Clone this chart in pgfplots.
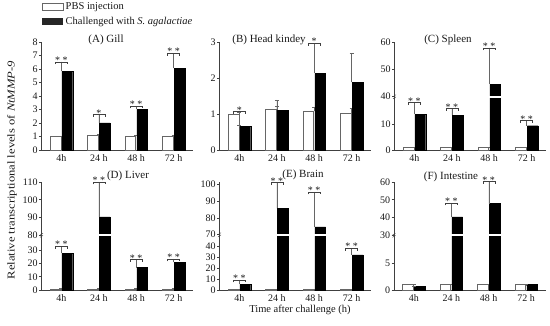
\documentclass[border=0pt]{standalone}
\usepackage{pgfplots}
\usepackage{pgfplotstable}
\pgfplotsset{compat=1.18}
\usepackage{fontspec}
\setmainfont{Liberation Serif}

% raw values: category, PBS mean, PBS error, challenged mean, challenged error
\pgfplotstableread{
x pbs pbse ch che
0 1.00 0.04 5.85 0.69
1 1.10 0.08 2.00 0.65
2 1.05 0.07 3.00 0.27
3 1.05 0.08 6.05 1.13
}\gill
\pgfplotstableread{
x pbs pbse ch che
0 1.00 0.04 0.65 0.03
1 1.13 0.09 1.10 0.29
2 1.07 0.13 2.13 0.84
3 1.03 0.12 1.88 0.80
}\kidney
\pgfplotstableread{
x pbs pbse ch che
0 1.00 0.15 14.1 4.6
1 1.00 0.15 13.8 2.7
2 1.00 0.15 44.5 13.5
3 1.00 0.15 9.6 2.0
}\spleen
\pgfplotstableread{
x pbs pbse ch che
0 0.90 0.20 27.5 5.5
1 0.90 0.20 90.3 19.7
2 0.90 0.20 16.8 6.2
3 0.90 0.20 20.7 2.8
}\liver
\pgfplotstableread{
x pbs pbse ch che
0 0.80 0.10 5.5 3.8
1 0.80 0.10 85.6 15.2
2 0.80 0.10 74.7 20.7
3 0.80 0.10 32.4 6.2
}\brain
\pgfplotstableread{
x pbs pbse ch che
0 1.00 0.08 0.75 0.01
1 1.00 0.08 40.3 7.9
2 1.00 0.08 47.8 12.6
3 1.00 0.08 1.00 0.01
}\intestine

\pgfplotsset{
  panel/.style={
    scale only axis, width=152pt, height=108pt,
    axis x line*=bottom, axis y line*=left,
    xmin=-0.53, xmax=3.53, ymin=0,
    xtick={0,1,2,3}, xticklabels={4h,24 h,48 h,72 h},
    x tick style={draw=none},
    y tick style={black!75, line width=0.5pt},
    tick align=outside, major tick length=2.5pt,
    axis line style={black!75, line width=0.5pt},
    ticklabel style={font=\fontsize{10}{12}\selectfont, text=black!90},
    yticklabel style={inner sep=1.2pt},
    xticklabel style={inner sep=1.5pt},
    /pgf/number format/assume math mode=true,
    clip=false,
  },
  pbsbar/.style={ybar, bar width=10.8pt, bar shift=-6pt, fill=white, draw=black!60, line width=0.4pt,
    error bars/.cd, y dir=plus, y explicit,
    error bar style={black!60, line width=0.4pt},
    error mark options={rotate=90, mark size=2pt, black!60, line width=0.4pt}},
  chbar/.style={ybar, bar width=10.8pt, bar shift=6pt, fill=black, draw=black, line width=0.4pt,
    error bars/.cd, y dir=plus, y explicit,
    error bar style={black!60, line width=0.4pt},
    error mark options={rotate=90, mark size=2pt, black!60, line width=0.4pt}},
}

\newcommand\sig[3]{%
  \draw[black!75, line width=0.4pt]
    ([xshift=-6pt,yshift=-2.5pt]axis cs:#1,{#2}) -- ([xshift=-6pt]axis cs:#1,{#2})
    -- ([xshift=6pt]axis cs:#1,{#2}) -- ([xshift=6pt,yshift=-2.5pt]axis cs:#1,{#2});
  \node[anchor=base, inner sep=0pt, font=\fontsize{10}{12}\selectfont, text=black!90]
    at ([yshift=-1.8pt]axis cs:#1,{#2}) {#3};}
\newcommand\brk[1]{%
  \draw[white, line width=1.8pt] (axis cs:-0.3,#1) -- (axis cs:3.5,#1);
  \draw[black!75, line width=0.4pt]
    ([xshift=-1.5pt,yshift=-2.2pt]axis cs:-0.53,#1) -- ++(3pt,2pt)
    ([xshift=-1.5pt,yshift=0pt]axis cs:-0.53,#1) -- ++(3pt,2pt);}

\begin{document}
\begin{tikzpicture}[
  declare function={
    TC(\v)=(\v<30)*(2.53*\v)+(\v>=30)*(53.3+2.72*(\v-40));
    TD(\v)=(\v<50)*(1.333*\v)+(\v>=50)*(55+1.777*(\v-80));
    TE(\v)=(\v<55)*(1.083*\v)+(\v>=55)*(55.3+1.69*(\v-70));
    TF(\v)=(\v<20)*(5.33*\v)+(\v>=20)*(55+1.777*(\v-30));
  }]
\path[use as bounding box] (0pt,0pt) rectangle (550pt,326pt);

% (A) Gill
\begin{axis}[panel, at={(41.5pt,176pt)}, anchor=south west, ymax=8, ytick={0,1,...,8}]
\addplot[pbsbar] table[x=x, y=pbs, y error plus=pbse] {\gill};
\addplot[chbar] table[x=x, y=ch, y error plus=che] {\gill};
\sig{0}{6.54}{* *}
\sig{1}{2.65}{*}
\sig{2}{3.27}{* *}
\sig{3}{7.18}{* *}
\end{axis}

% (B) Head kidney
\begin{axis}[panel, at={(219.5pt,176pt)}, anchor=south west, ymax=3, ytick={0,1,2,3}]
\addplot[pbsbar] table[x=x, y=pbs, y error plus=pbse] {\kidney};
\addplot[chbar] table[x=x, y=ch, y error plus=che] {\kidney};
\sig{0}{1.07}{*}
\sig{2}{2.97}{*}
\end{axis}

% (C) Spleen
\begin{axis}[panel, at={(394.5pt,176pt)}, anchor=south west, ymax=108,
  ytick={0,25.3,53.3,80.5,107.7}, yticklabels={0,10,40,50,60}]
\addplot[pbsbar] table[x=x, y expr={TC(\thisrow{pbs})},
  y error plus expr={TC(\thisrow{pbs}+\thisrow{pbse})-TC(\thisrow{pbs})}] {\spleen};
\addplot[chbar] table[x=x, y expr={TC(\thisrow{ch})},
  y error plus expr={TC(\thisrow{ch}+\thisrow{che})-TC(\thisrow{ch})}] {\spleen};
\brk{53.3}
\sig{0}{TC(18.7)}{* *}
\sig{1}{TC(16.5)}{* *}
\sig{2}{TC(58)}{* *}
\sig{3}{TC(11.6)}{* *}
\end{axis}

% (D) Liver
\begin{axis}[panel, at={(41.5pt,36pt)}, anchor=south west, ymax=108.3,
  ytick={0,13.3,26.7,40,55,72.8,90.5,108.3}, yticklabels={0,10,20,30,80,90,100,110}]
\addplot[pbsbar] table[x=x, y expr={TD(\thisrow{pbs})},
  y error plus expr={TD(\thisrow{pbs}+\thisrow{pbse})-TD(\thisrow{pbs})}] {\liver};
\addplot[chbar] table[x=x, y expr={TD(\thisrow{ch})},
  y error plus expr={TD(\thisrow{ch}+\thisrow{che})-TD(\thisrow{ch})}] {\liver};
\brk{55}
\sig{0}{TD(33)}{* *}
\sig{1}{TD(110)}{* *}
\sig{2}{TD(23)}{* *}
\sig{3}{TD(23.5)}{* *}
\end{axis}

% (E) Brain
\begin{axis}[panel, at={(219.5pt,36pt)}, anchor=south west, ymax=108,
  ytick={0,10.8,21.7,32.5,43.3,55.3,72.2,89.1,106},
  yticklabels={0,10,20,30,40,70,80,90,100}]
\addplot[pbsbar] table[x=x, y expr={TE(\thisrow{pbs})},
  y error plus expr={TE(\thisrow{pbs}+\thisrow{pbse})-TE(\thisrow{pbs})}] {\brain};
\addplot[chbar] table[x=x, y expr={TE(\thisrow{ch})},
  y error plus expr={TE(\thisrow{ch}+\thisrow{che})-TE(\thisrow{ch})}] {\brain};
\brk{55.3}
\sig{0}{TE(9.3)}{* *}
\sig{1}{TE(100.8)}{* *}
\sig{2}{TE(95.4)}{* *}
\sig{3}{TE(38.6)}{* *}
\end{axis}

% (F) Intestine
\begin{axis}[panel, at={(394pt,36pt)}, anchor=south west, ymax=108.3,
  ytick={0,26.7,55,72.8,90.5,108.3}, yticklabels={0,5,30,40,50,60}]
\addplot[pbsbar] table[x=x, y expr={TF(\thisrow{pbs})},
  y error plus expr={TF(\thisrow{pbs}+\thisrow{pbse})-TF(\thisrow{pbs})}] {\intestine};
\addplot[chbar] table[x=x, y expr={TF(\thisrow{ch})},
  y error plus expr={TF(\thisrow{ch}+\thisrow{che})-TF(\thisrow{ch})}] {\intestine};
\brk{55}
\sig{1}{TF(48.2)}{* *}
\sig{2}{TF(60.4)}{* *}
\end{axis}

% titles
\begin{scope}[every node/.style={font=\fontsize{11}{13}\selectfont, text=black!90, inner sep=0pt}]
\node at (106pt,286pt) {(A) Gill};
\node at (269pt,286pt) {(B) Head kindey};
\node at (448pt,286pt) {(C) Spleen};
\node at (128pt,150pt) {(D) Liver};
\node at (303pt,151pt) {(E) Brain};
\node at (451pt,149pt) {(F) Intestine};
\end{scope}

% axis labels
\node[rotate=90, font=\fontsize{10.5}{12}\selectfont, text=black!90, inner sep=0pt] at (12pt,156pt)
  {\scalebox{1.2}[1]{Relative transcriptional levels of \textit{NtMMP-9}}};
\node[font=\fontsize{10.5}{12}\selectfont, text=black!90, inner sep=0pt] at (300pt,16pt)
  {Time after challenge (h)};

% legend
\draw[black!60, line width=0.4pt, fill=white] (42pt,315.3pt) rectangle (63pt,322.5pt);
\node[anchor=west, font=\fontsize{10.5}{12}\selectfont, text=black!90, inner sep=0pt] at (65.5pt,318.7pt) {PBS injection};
\fill[black!85] (42pt,301pt) rectangle (63pt,308.3pt);
\node[anchor=west, font=\fontsize{10.5}{12}\selectfont, text=black!90, inner sep=0pt] at (65.5pt,304.3pt) {Challenged with \textit{S. agalactiae}};
\end{tikzpicture}
\end{document}
